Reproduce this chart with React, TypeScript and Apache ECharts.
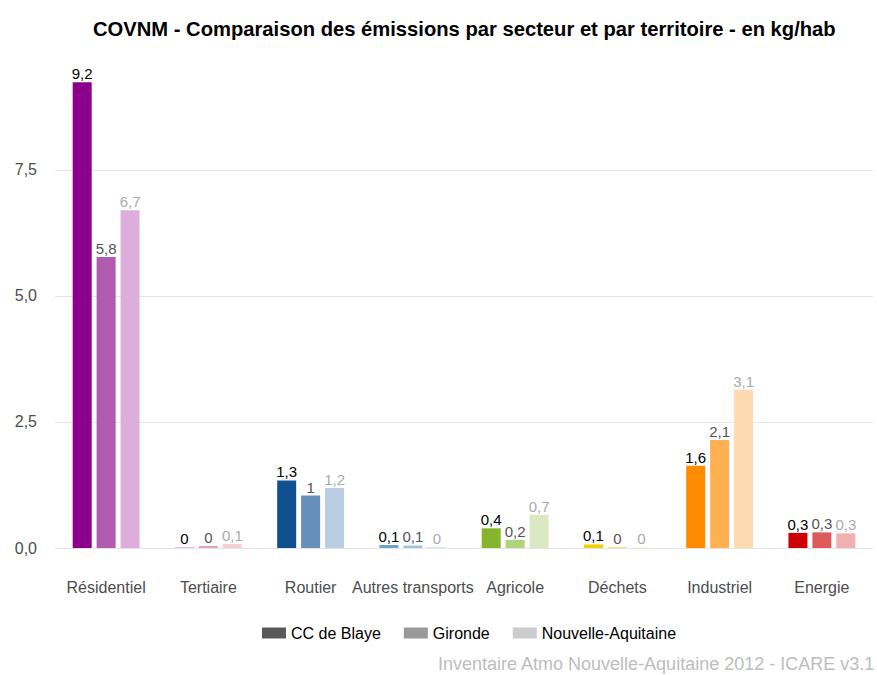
import React, { useEffect, useRef } from "react";
import * as echarts from "echarts";

const categories = ["Résidentiel", "Tertiaire", "Routier", "Autres transports", "Agricole", "Déchets", "Industriel", "Energie"];
const seriesNames = ["CC de Blaye", "Gironde", "Nouvelle-Aquitaine"];
const ccBlaye = [9.24, 0.01, 1.34, 0.06, 0.39, 0.07, 1.63, 0.3];
const gironde = [5.77, 0.04, 1.04, 0.05, 0.16, 0.02, 2.14, 0.31];
const nouvelleAquitaine = [6.7, 0.08, 1.19, 0.02, 0.66, 0.01, 3.14, 0.29];
const yTicks = [0, 2.5, 5, 7.5];

const darkColors = ["#8B008B", "#E07C8C", "#11508F", "#6FA3C7", "#84B52B", "#F2D000", "#FF8C00", "#CC0000"];
const midColors = ["#B05AB0", "#E8A3AE", "#6690BB", "#A3C5DC", "#B0D47A", "#F5E070", "#FFB050", "#DD5A5A"];
const lightColors = ["#DDAEDC", "#F3D0D6", "#B8CCE2", "#D3E4EF", "#DAE9C3", "#F9EDB5", "#FFDAB0", "#F0B0B0"];
const legendColors = ["#595959", "#999999", "#cccccc"];
const labelColors = ["#000000", "#555555", "#aaaaaa"];

const fmt = (v: number) => {
  const r = Math.round(v * 10) / 10;
  return String(r).replace(".", ",");
};

export default function App() {
  const ref = useRef<HTMLDivElement>(null);
  useEffect(() => {
    if (!ref.current) return;
    const chart = echarts.init(ref.current, undefined, { renderer: "svg" });
    const values = [ccBlaye, gironde, nouvelleAquitaine];
    const colors = [darkColors, midColors, lightColors];
    const font = "Liberation Sans, Arial, Helvetica, sans-serif";
    chart.setOption({
      animation: false,
      backgroundColor: "#ffffff",
      textStyle: { fontFamily: font },
      title: {
        text: "COVNM - Comparaison des émissions par secteur et par territoire - en kg/hab",
        left: 88,
        top: 14,
        textStyle: { fontSize: 20.2, fontWeight: "bold", color: "#000", fontFamily: font },
      },
      legend: {
        data: seriesNames,
        left: 257,
        top: 620,
        itemWidth: 24,
        itemHeight: 11,
        itemGap: 23,
        icon: "rect",
        textStyle: { fontSize: 16, color: "#000", fontFamily: font },
      },
      grid: { left: 55, right: 4, top: 60, bottom: 127, containLabel: false },
      xAxis: {
        type: "category",
        data: categories,
        axisLine: { show: false },
        axisTick: { show: false },
        axisLabel: { color: "#4d4d4d", fontSize: 16, margin: 31, interval: 0, fontFamily: font },
      },
      yAxis: {
        type: "value",
        min: 0,
        max: 9.68,
        interval: 2.5,
        axisLine: { show: false },
        axisTick: { show: false },
        splitLine: { show: true, showMaxLine: false, lineStyle: { color: "#e6e6e6", width: 1.2 } },
        axisLabel: {
          color: "#4d4d4d",
          fontSize: 16,
          margin: 18,
          showMaxLabel: false,
          fontFamily: font,
          formatter: (v: number) => (yTicks.includes(v) ? v.toFixed(1).replace(".", ",") : ""),
        },
      },
      series: values.map((arr, si) => ({
        name: seriesNames[si],
        type: "bar",
        barWidth: 19,
        barGap: "26%",
        itemStyle: { color: legendColors[si] },
        label: {
          show: true,
          position: "top",
          distance: 1,
          fontSize: 15,
          color: labelColors[si],
          fontFamily: font,
          formatter: (p: any) => fmt(p.value),
        },
        data: arr.map((v, i) => ({ value: v, itemStyle: { color: colors[si][i] } })),
      })),
      graphic: [
        {
          type: "text",
          left: 438,
          top: 655,
          style: {
            text: "Inventaire Atmo Nouvelle-Aquitaine 2012 - ICARE v3.1",
            fill: "#bdbdbd",
            fontSize: 18,
            fontFamily: font,
          },
        },
      ],
    });
    return () => chart.dispose();
  }, []);
  return <div ref={ref} style={{ position: "fixed", left: 0, top: 0, width: 877, height: 675 }} />;
}
